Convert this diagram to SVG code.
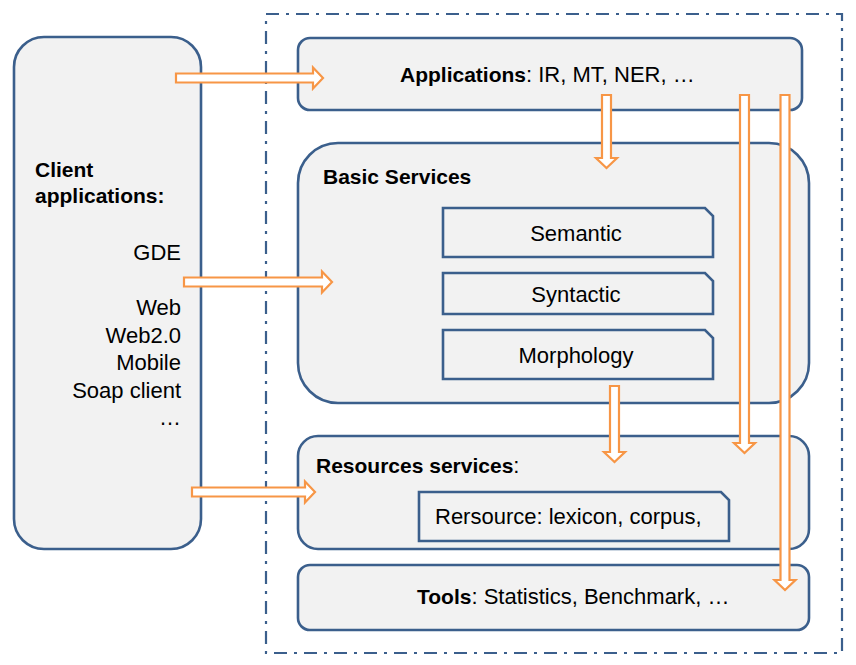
<svg xmlns="http://www.w3.org/2000/svg" width="856" height="665" viewBox="0 0 856 665">
<style>
.box{fill:#F2F2F2;stroke:#3B5F8C;stroke-width:2.6}
.frame{fill:none;stroke:#3B5F8C;stroke-width:2.2;stroke-dasharray:13 7 3 7}
.arr{fill:#FFFFFF;stroke:#F79646;stroke-width:2.2;stroke-linejoin:miter}
text{font-family:"Liberation Sans",Arial,sans-serif;font-size:22px;fill:#000}
.b{font-weight:bold;font-size:21px}
.c{text-anchor:middle}
.r{text-anchor:end}
</style>
<rect width="856" height="665" fill="#FFFFFF"/>
<rect class="frame" x="266" y="14" width="576" height="639"/>
<g id="client">
<rect class="box" x="14" y="37" width="187" height="512" rx="30" ry="30"/>
<text class="b" x="35" y="177">Client</text>
<text class="b" x="35" y="203">applications:</text>
<text class="r" x="181" y="260">GDE</text>
<text class="r" x="181" y="315">Web</text>
<text class="r" x="181" y="343">Web2.0</text>
<text class="r" x="181" y="370">Mobile</text>
<text class="r" x="181" y="398">Soap client</text>
<text class="r" x="181" y="425">…</text>
</g>
<g id="applications">
<rect class="box" x="298" y="38" width="504" height="72" rx="12" ry="12"/>
<text x="400" y="82"><tspan class="b">Applications</tspan>: IR, MT, NER, …</text>
</g>
<g id="basic-services">
<rect class="box" x="298" y="143" width="511" height="260" rx="40" ry="40"/>
<text class="b" x="323" y="184">Basic Services</text>
</g>
<g id="semantic">
<path class="box" d="M443,208 H705 L713,216 V257 H443 Z"/>
<text class="c" x="576" y="241">Semantic</text>
</g>
<g id="syntactic">
<path class="box" d="M443,273 H705 L713,281 V314 H443 Z"/>
<text class="c" x="576" y="302">Syntactic</text>
</g>
<g id="morphology">
<path class="box" d="M443,330 H705 L713,338 V379 H443 Z"/>
<text class="c" x="576" y="363">Morphology</text>
</g>
<g id="resources-services">
<rect class="box" x="298" y="436" width="511" height="113" rx="20" ry="20"/>
<text x="316" y="473"><tspan class="b">Resources services</tspan>:</text>
</g>
<g id="resource">
<path class="box" d="M419,492 H721 L729,500 V541 H419 Z"/>
<text x="435" y="524">Rersource: lexicon, corpus,</text>
</g>
<g id="tools">
<rect class="box" x="298" y="565" width="511" height="65" rx="12" ry="12"/>
<text x="417" y="604"><tspan class="b">Tools</tspan>: Statistics, Benchmark, …</text>
</g>
<g id="connectors">
<path class="arr" d="M176,73.5 H313 V67.5 L323,78 L313,88.5 V82.5 H176 Z"/>
<path class="arr" d="M184,277.5 H322 V271.5 L332,282 L322,292.5 V286.5 H184 Z"/>
<path class="arr" d="M192,487.5 H305 V481.5 L315,492 L305,502.5 V496.5 H192 Z"/>
<path class="arr" d="M602,95 H611 V158 H617 L606.5,168 L596,158 H602 Z"/>
<path class="arr" d="M610,386 H619 V452 H625 L614.5,462 L604,452 H610 Z"/>
<path class="arr" d="M740,95 H749 V443 H755 L744.5,453 L734,443 H740 Z"/>
<path class="arr" d="M780.5,95 H789.5 V580 H795.5 L785,590 L774.5,580 H780.5 Z"/>
</g>
</svg>
